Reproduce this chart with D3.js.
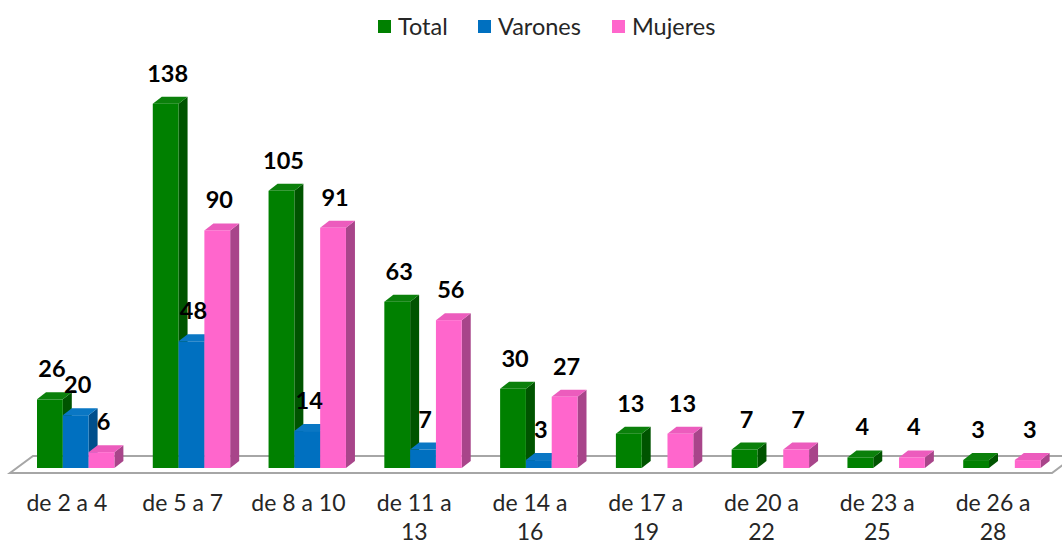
<!DOCTYPE html>
<html><head><meta charset="utf-8">
<script src="https://cdn.jsdelivr.net/npm/d3@7"></script>
<style>html,body{margin:0;padding:0;background:#fff;}svg{display:block;}</style>
</head><body>
<svg id="c" width="1062" height="545"></svg>
<script>
const categories = ["de 2 a 4","de 5 a 7","de 8 a 10","de 11 a 13","de 14 a 16","de 17 a 19","de 20 a 22","de 23 a 25","de 26 a 28"];
const seriesNames = ["Total","Varones","Mujeres"];
const total   = [26,138,105,63,30,13,7,4,3];
const varones = [20,48,14,7,3,null,null,null,null];
const mujeres = [6,90,91,56,27,13,7,4,3];
const colors = {
  Total:   {front:"#008000", side:"#005400", top:"#0b800b"},
  Varones: {front:"#0070c0", side:"#004f8c", top:"#0a77c4"},
  Mujeres: {front:"#ff66cc", side:"#a8458a", top:"#ec5cbd"}
};
const seriesData = {Total: total, Varones: varones, Mujeres: mujeres};

const svg = d3.select("#c");
const font = "Lato, 'Liberation Sans', sans-serif";
const baseY = 468, dx = 9, dy = -7;

const x0 = d3.scaleBand().domain(categories).range([12, 1054]).padding(0);
const x1 = d3.scaleBand().domain(seriesNames).range([25, 25 + 77.4]).padding(0);
const y = d3.scaleLinear().domain([0, 150]).range([baseY, baseY - 150 * 2.64]);

// floor
const fl = [[10,473],[1052,473],[1075,456],[33,456]];
svg.append("polygon").attr("points", fl.map(p=>p.join(",")).join(" "))
  .attr("fill","#fff").attr("stroke","#a6a6a6").attr("stroke-width",2);

// bars
const bars = [];
categories.forEach((c,i)=>{
  seriesNames.forEach(s=>{
    const v = seriesData[s][i];
    if (v !== null && v !== undefined) bars.push({c, s, v});
  });
});
const g = svg.append("g");
bars.forEach(b=>{
  const xl = x0(b.c) + x1(b.s), w = x1.bandwidth();
  const yt = y(b.v), yb = y(0);
  const col = colors[b.s];
  const bg = g.append("g");
  bg.append("polygon").attr("points", [[xl+w,yb],[xl+w+dx,yb+dy],[xl+w+dx,yt+dy],[xl+w,yt]].map(p=>p.join(",")).join(" "))
    .attr("fill", col.side);
  bg.append("polygon").attr("points", [[xl,yt],[xl+w,yt],[xl+w+dx,yt+dy],[xl+dx,yt+dy]].map(p=>p.join(",")).join(" "))
    .attr("fill", col.top);
  bg.append("rect").attr("x", xl).attr("y", yt).attr("width", w).attr("height", yb-yt)
    .attr("fill", col.front);
});
// labels
bars.forEach(b=>{
  const xl = x0(b.c) + x1(b.s), w = x1.bandwidth();
  svg.append("text").attr("x", xl + w/2 + 2).attr("y", y(b.v) - 22)
    .attr("text-anchor","middle").attr("font-family", font).attr("font-weight","bold")
    .attr("font-size", 23.5).attr("fill","#000").text(b.v);
});

// category labels
categories.forEach(c=>{
  const cx = x0(c) + x0.bandwidth()/2 - 3;
  let lines = [c];
  if (c.length > 9) {
    const parts = c.split(" ");
    lines = [parts.slice(0, parts.length-1).join(" "), parts[parts.length-1]];
  }
  const t = svg.append("text").attr("text-anchor","middle").attr("font-family", font)
    .attr("font-size", 23).attr("fill","#262626");
  lines.forEach((l,k)=>{
    t.append("tspan").attr("x", cx).attr("y", 511 + k*29).text(l);
  });
});

// legend
const legX = [378, 478, 612];
seriesNames.forEach((s,i)=>{
  svg.append("rect").attr("x", legX[i]).attr("y", 20).attr("width", 13).attr("height", 13)
    .attr("fill", colors[s].front);
  svg.append("text").attr("x", legX[i] + 20).attr("y", 35).attr("font-family", font)
    .attr("font-size", 23.5).attr("fill","#262626").text(s);
});
</script>
</body></html>
